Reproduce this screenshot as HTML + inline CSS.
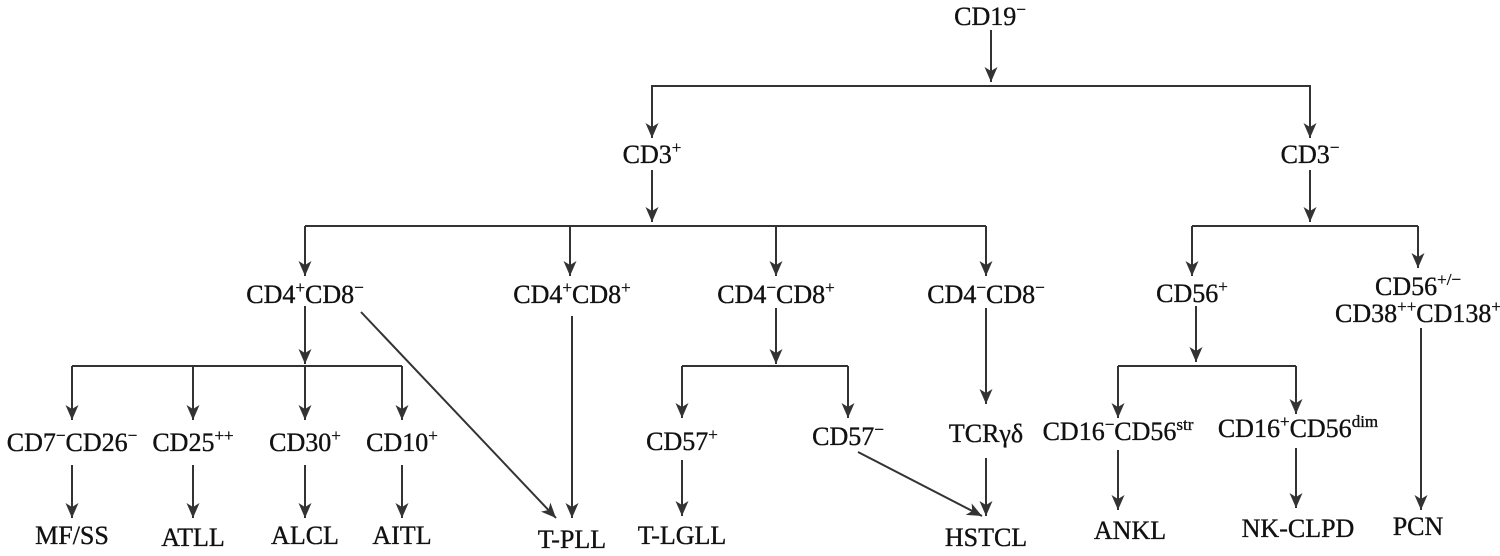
<!DOCTYPE html>
<html><head><meta charset="utf-8"><style>
html,body{margin:0;padding:0;background:#fff;}
svg{display:block;}
text{font-family:"Liberation Serif",serif;font-size:26px;fill:#111;stroke:#111;stroke-width:0.35;text-anchor:middle;}
.s{font-size:17px;}
</style></head><body>
<svg width="1500" height="556" viewBox="0 0 1500 556" xmlns="http://www.w3.org/2000/svg">
<defs>
<marker id="a" markerUnits="userSpaceOnUse" markerWidth="20" markerHeight="20" refX="16" refY="8" orient="auto">
<path d="M16,8 L1,1.5 L5,8 L1,14.5 Z" fill="#333"/>
</marker>
</defs>
<g stroke="#333" stroke-width="2" fill="none">
<line x1="991" y1="30" x2="991" y2="82" marker-end="url(#a)"/>
<polyline points="652,138 652,86 1310,86 1310,138" marker-end="url(#a)"/>
<line x1="652" y1="86" x2="652" y2="138" marker-end="url(#a)"/>
<line x1="652" y1="170" x2="652" y2="222" marker-end="url(#a)"/>
<line x1="305" y1="226" x2="986" y2="226"/>
<line x1="305" y1="226" x2="305" y2="276" marker-end="url(#a)"/>
<line x1="570" y1="226" x2="570" y2="276" marker-end="url(#a)"/>
<line x1="776" y1="226" x2="776" y2="276" marker-end="url(#a)"/>
<line x1="986" y1="226" x2="986" y2="276" marker-end="url(#a)"/>
<line x1="1310" y1="170" x2="1310" y2="222" marker-end="url(#a)"/>
<line x1="1192" y1="226" x2="1418" y2="226"/>
<line x1="1192" y1="226" x2="1192" y2="276" marker-end="url(#a)"/>
<line x1="1418" y1="226" x2="1418" y2="268" marker-end="url(#a)"/>
<line x1="305" y1="306" x2="305" y2="364" marker-end="url(#a)"/>
<line x1="72" y1="366" x2="402" y2="366"/>
<line x1="72" y1="366" x2="72" y2="420" marker-end="url(#a)"/>
<line x1="193" y1="366" x2="193" y2="420" marker-end="url(#a)"/>
<line x1="305" y1="366" x2="305" y2="420" marker-end="url(#a)"/>
<line x1="402" y1="366" x2="402" y2="420" marker-end="url(#a)"/>
<line x1="72" y1="465" x2="72" y2="518" marker-end="url(#a)"/>
<line x1="193" y1="465" x2="193" y2="518" marker-end="url(#a)"/>
<line x1="305" y1="465" x2="305" y2="518" marker-end="url(#a)"/>
<line x1="402" y1="465" x2="402" y2="518" marker-end="url(#a)"/>
<line x1="361" y1="312" x2="556" y2="518" marker-end="url(#a)"/>
<line x1="572" y1="316" x2="572" y2="518" marker-end="url(#a)"/>
<line x1="776" y1="308" x2="776" y2="364" marker-end="url(#a)"/>
<line x1="682" y1="366" x2="848" y2="366"/>
<line x1="682" y1="366" x2="682" y2="418" marker-end="url(#a)"/>
<line x1="848" y1="366" x2="848" y2="418" marker-end="url(#a)"/>
<line x1="682" y1="460" x2="682" y2="516" marker-end="url(#a)"/>
<line x1="858" y1="452" x2="982" y2="516" marker-end="url(#a)"/>
<line x1="986" y1="308" x2="986" y2="404" marker-end="url(#a)"/>
<line x1="986" y1="458" x2="986" y2="516" marker-end="url(#a)"/>
<line x1="1196" y1="306" x2="1196" y2="362" marker-end="url(#a)"/>
<line x1="1118" y1="366" x2="1296" y2="366"/>
<line x1="1118" y1="366" x2="1118" y2="418" marker-end="url(#a)"/>
<line x1="1296" y1="366" x2="1296" y2="414" marker-end="url(#a)"/>
<line x1="1118" y1="450" x2="1118" y2="510" marker-end="url(#a)"/>
<line x1="1296" y1="448" x2="1296" y2="508" marker-end="url(#a)"/>
<line x1="1421" y1="328" x2="1421" y2="510" marker-end="url(#a)"/>
</g>
<g>
<text x="990" y="25">CD19<tspan class="s" dy="-10">−</tspan></text>
<text x="652" y="163">CD3<tspan class="s" dy="-10">+</tspan></text>
<text x="1310" y="163">CD3<tspan class="s" dy="-10">−</tspan></text>
<text x="305" y="303">CD4<tspan class="s" dy="-10">+</tspan><tspan dy="10">CD8</tspan><tspan class="s" dy="-10">−</tspan></text>
<text x="572" y="303">CD4<tspan class="s" dy="-10">+</tspan><tspan dy="10">CD8</tspan><tspan class="s" dy="-10">+</tspan></text>
<text x="776" y="303">CD4<tspan class="s" dy="-10">−</tspan><tspan dy="10">CD8</tspan><tspan class="s" dy="-10">+</tspan></text>
<text x="986" y="303">CD4<tspan class="s" dy="-10">−</tspan><tspan dy="10">CD8</tspan><tspan class="s" dy="-10">−</tspan></text>
<text x="1192" y="302">CD56<tspan class="s" dy="-10">+</tspan></text>
<text x="1418" y="295">CD56<tspan class="s" dy="-10">+/−</tspan></text>
<text x="1418" y="322">CD38<tspan class="s" dy="-10">++</tspan><tspan dy="10">CD138</tspan><tspan class="s" dy="-10">+</tspan></text>
<text x="72" y="451">CD7<tspan class="s" dy="-10">−</tspan><tspan dy="10">CD26</tspan><tspan class="s" dy="-10">−</tspan></text>
<text x="193" y="451">CD25<tspan class="s" dy="-10">++</tspan></text>
<text x="305" y="451">CD30<tspan class="s" dy="-10">+</tspan></text>
<text x="402" y="451">CD10<tspan class="s" dy="-10">+</tspan></text>
<text x="682" y="450">CD57<tspan class="s" dy="-10">+</tspan></text>
<text x="848" y="445">CD57<tspan class="s" dy="-10">−</tspan></text>
<text x="986" y="442">TCRγδ</text>
<text x="1118" y="440">CD16<tspan class="s" dy="-10">−</tspan><tspan dy="10">CD56</tspan><tspan class="s" dy="-10">str</tspan></text>
<text x="1298" y="437">CD16<tspan class="s" dy="-10">+</tspan><tspan dy="10">CD56</tspan><tspan class="s" dy="-10">dim</tspan></text>
<text x="72" y="544">MF/SS</text>
<text x="193" y="546">ATLL</text>
<text x="305" y="544">ALCL</text>
<text x="402" y="544">AITL</text>
<text x="572" y="548">T-PLL</text>
<text x="682" y="544">T-LGLL</text>
<text x="986" y="546">HSTCL</text>
<text x="1130" y="539">ANKL</text>
<text x="1298" y="537">NK-CLPD</text>
<text x="1418" y="535">PCN</text>
</g>
</svg>
</body></html>
